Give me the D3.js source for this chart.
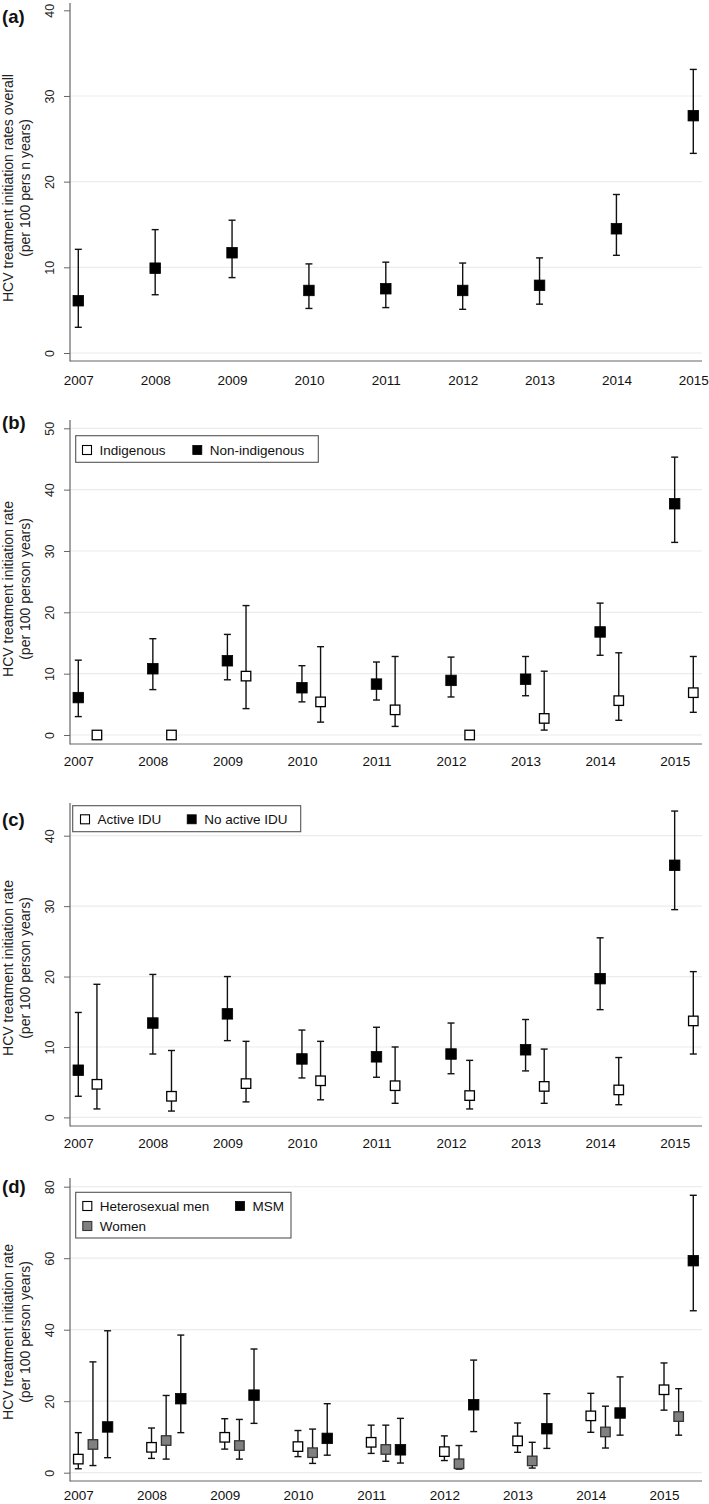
<!DOCTYPE html>
<html>
<head>
<meta charset="utf-8">
<script src="https://cdn.jsdelivr.net/npm/d3@7"></script>
<style>
  html, body { margin: 0; padding: 0; background: #fff; }
  svg { display: block; font-family: "Liberation Sans", Arial, Helvetica, sans-serif; }
</style>
</head>
<body>
<svg id="chart" width="709" height="1504"></svg>
<script>
// ---------------- DATA ----------------
const years = [2007, 2008, 2009, 2010, 2011, 2012, 2013, 2014, 2015];
const yearLabels = ["2007", "2008", "2009", "2010", "2011", "2012", "2013", "2014", "2015"];

// (a) overall
const overallRate = [6.1, 9.9, 11.7, 7.3, 7.5, 7.3, 7.9, 14.5, 27.7];
const overallLow  = [3.0, 6.8, 8.8, 5.2, 5.3, 5.1, 5.7, 11.4, 23.3];
const overallHigh = [12.1, 14.4, 15.5, 10.4, 10.6, 10.5, 11.1, 18.5, 33.1];
const ticksA = [0, 10, 20, 30, 40];

// (b) Indigenous / Non-indigenous
const nonIndigRate = [6.1, 10.8, 12.1, 7.7, 8.3, 8.9, 9.1, 16.8, 37.7];
const nonIndigLow  = [3.0, 7.4, 9.0, 5.4, 5.7, 6.2, 6.4, 13.0, 31.4];
const nonIndigHigh = [12.2, 15.7, 16.4, 11.3, 11.9, 12.7, 12.8, 21.5, 45.3];
const indigRate = [0, 0, 9.6, 5.4, 4.1, 0, 2.7, 5.6, 6.9];
const indigLow  = [null, null, 4.3, 2.1, 1.4, null, 0.8, 2.4, 3.7];
const indigHigh = [null, null, 21.1, 14.4, 12.8, null, 10.4, 13.4, 12.8];
const ticksB = [0, 10, 20, 30, 40, 50];

// (c) Active IDU / No active IDU
const noIduRate = [6.7, 13.4, 14.7, 8.3, 8.6, 9.0, 9.6, 19.7, 35.8];
const noIduLow  = [3.0, 9.0, 10.9, 5.6, 5.7, 6.2, 6.6, 15.3, 29.5];
const noIduHigh = [14.9, 20.3, 20.0, 12.4, 12.8, 13.4, 13.9, 25.5, 43.5];
const iduRate = [4.7, 3.0, 4.8, 5.2, 4.5, 3.1, 4.4, 3.9, 13.7];
const iduLow  = [1.2, 0.9, 2.2, 2.5, 2.0, 1.2, 2.0, 1.8, 9.0];
const iduHigh = [18.9, 9.5, 10.8, 10.8, 10.0, 8.1, 9.7, 8.5, 20.7];
const ticksC = [0, 10, 20, 30, 40];

// (d) Heterosexual men / Women / MSM
const heteroRate = [3.8, 7.1, 9.9, 7.3, 8.5, 5.9, 8.9, 15.9, 23.2];
const heteroLow  = [1.1, 4.0, 6.6, 4.5, 5.4, 3.4, 5.7, 11.3, 17.5];
const heteroHigh = [11.2, 12.5, 15.1, 11.8, 13.3, 10.3, 13.9, 22.2, 30.7];
const womenRate = [7.9, 9.0, 7.6, 5.6, 6.5, 2.5, 3.3, 11.4, 15.7];
const womenLow  = [2.0, 3.8, 3.8, 2.6, 3.2, 1.0, 1.3, 6.9, 10.5];
const womenHigh = [31.0, 21.6, 14.9, 12.2, 13.3, 7.6, 8.5, 18.6, 23.5];
const msmRate = [12.8, 20.7, 21.7, 9.6, 6.4, 19.0, 12.3, 16.7, 59.3];
const msmLow  = [4.2, 11.2, 13.8, 4.9, 2.7, 11.5, 6.8, 10.5, 45.3];
const msmHigh = [39.7, 38.5, 34.6, 19.3, 15.2, 31.5, 22.1, 26.8, 77.6];
const ticksD = [0, 20, 40, 60, 80];

// ---------------- LAYOUT / STYLE ----------------
const FILL = { black: "#000", white: "#fff", gray: "#808080" };
const svg = d3.select("#chart");
const X0 = 78.3, X1 = 693.3, AXIS_X = 70, GRID_END = 702;

const panels = [
  { tag: "(a)", tagY: 17, top: 3, zeroY: 353, topTickY: 10.3, ticks: ticksA, bottom: 361, yearY: 380,
    ylab: ["HCV treatment initiation rates  overall", "(per 100 pers  n years)"], ylabY: 188,
    gridSkipTop: true, maxOff: 0,
    series: [{ rate: overallRate, lo: overallLow, hi: overallHigh, fill: "black", off: 0 }], legend: null },
  { tag: "(b)", tagY: 423, top: 420, zeroY: 735, topTickY: 428.3, ticks: ticksB, bottom: 744, yearY: 761.7,
    ylab: ["HCV  treatment initiation rate", "(per 100 person years)"], ylabY: 589,
    maxOff: 0.25,
    series: [{ rate: nonIndigRate, lo: nonIndigLow, hi: nonIndigHigh, fill: "black", off: 0 },
             { rate: indigRate, lo: indigLow, hi: indigHigh, fill: "white", off: 0.25 }],
    legend: { box: [75.7, 435.7, 318.3, 462.3],
              items: [{ x: 87, y: 450, fill: "white", text: "Indigenous" },
                      { x: 197.3, y: 450, fill: "black", text: "Non-indigenous" }] } },
  { tag: "(c)", tagY: 820, top: 803, zeroY: 1117.4, topTickY: 835.7, ticks: ticksC, bottom: 1126, yearY: 1143.3,
    ylab: ["HCV treatment initiation rate", "(per 100 person years)"], ylabY: 968,
    maxOff: 0.25,
    series: [{ rate: noIduRate, lo: noIduLow, hi: noIduHigh, fill: "black", off: 0 },
             { rate: iduRate, lo: iduLow, hi: iduHigh, fill: "white", off: 0.25 }],
    legend: { box: [72.7, 805.7, 300.7, 831.7],
              items: [{ x: 85, y: 819.3, fill: "white", text: "Active IDU" },
                      { x: 191.7, y: 819.3, fill: "black", text: "No active IDU" }] } },
  { tag: "(d)", tagY: 1186.7, top: 1178, zeroY: 1472.7, topTickY: 1186.7, ticks: ticksD, bottom: 1481, yearY: 1495.5,
    ylab: ["HCV  treatment initiation rate", "(per 100 person years)"], ylabY: 1332,
    maxOff: 0.4,
    series: [{ rate: heteroRate, lo: heteroLow, hi: heteroHigh, fill: "white", off: 0 },
             { rate: womenRate, lo: womenLow, hi: womenHigh, fill: "gray", off: 0.2 },
             { rate: msmRate, lo: msmLow, hi: msmHigh, fill: "black", off: 0.4 }],
    legend: { box: [75.7, 1192.3, 291, 1238],
              items: [{ x: 87.3, y: 1206, fill: "white", text: "Heterosexual men" },
                      { x: 240, y: 1206, fill: "black", text: "MSM" },
                      { x: 87.3, y: 1226, fill: "gray", text: "Women" }] } }
];

panels.forEach(p => {
  const g = svg.append("g");
  const x = d3.scaleLinear().domain([years[0], years[years.length - 1] + p.maxOff]).range([X0, X1]);
  const yMax = p.ticks[p.ticks.length - 1];
  const y = d3.scaleLinear().domain([0, yMax]).range([p.zeroY, p.topTickY]);

  // gridlines
  g.append("g").selectAll("line")
    .data(p.ticks.filter(t => !(p.gridSkipTop && t === yMax)))
    .join("line")
    .attr("x1", AXIS_X).attr("x2", GRID_END)
    .attr("y1", d => y(d)).attr("y2", d => y(d))
    .attr("stroke", "#ececec").attr("stroke-width", 1.2);

  // y axis (D3 axis for ticks)
  const yAxis = d3.axisLeft(y).tickValues(p.ticks).tickSize(6).tickPadding(0).tickFormat(d3.format("d"));
  const ya = g.append("g").attr("transform", `translate(${AXIS_X},0)`).call(yAxis);
  ya.select(".domain").remove();
  ya.selectAll(".tick line").attr("stroke", "#666").attr("stroke-width", 1);
  ya.selectAll(".tick text").remove();
  ya.selectAll(".tick").append("text")
    .attr("transform", "translate(-20,0) rotate(-90)")
    .attr("text-anchor", "middle").attr("dy", "0.35em")
    .attr("fill", "#222").style("font-size", "12.5px")
    .text(d => d3.format("d")(d));
  g.append("line").attr("x1", AXIS_X).attr("x2", AXIS_X).attr("y1", p.top).attr("y2", p.bottom + 0.5)
    .attr("stroke", "#666").attr("stroke-width", 1.2);

  // x axis
  g.append("line").attr("x1", AXIS_X).attr("x2", GRID_END).attr("y1", p.bottom).attr("y2", p.bottom)
    .attr("stroke", "#666").attr("stroke-width", 1.2);
  const xAxis = d3.axisBottom(x).tickValues(years).tickSize(0).tickFormat((d, i) => yearLabels[i]);
  const xa = g.append("g").attr("transform", `translate(0,${p.yearY})`).call(xAxis);
  xa.select(".domain").remove();
  xa.selectAll(".tick text").attr("y", 0).attr("dy", "0.35em")
    .attr("fill", "#111").style("font-size", "13.5px");

  // panel tag
  g.append("text").attr("x", 2).attr("y", p.tagY).attr("dy", "0.35em")
    .style("font-size", "18.5px").style("font-weight", "bold").attr("fill", "#111").text(p.tag);

  // y-axis title
  const lab = g.append("text").attr("transform", `translate(8,${p.ylabY}) rotate(-90)`)
    .attr("text-anchor", "middle").attr("fill", "#222").style("font-size", "14px");
  lab.append("tspan").attr("x", 0).attr("dy", "0.35em").text(p.ylab[0]);
  lab.append("tspan").attr("x", 0).attr("dy", "17px").text(p.ylab[1]);

  // error bars + markers
  p.series.forEach(s => {
    const sg = g.append("g");
    const pts = years.map((yr, i) => ({ x: x(yr + s.off), v: s.rate[i], lo: s.lo[i], hi: s.hi[i] }));
    const wb = pts.filter(d => d.lo !== null && d.hi !== null);
    sg.selectAll("line.w").data(wb).join("line").attr("class", "w")
      .attr("x1", d => d.x).attr("x2", d => d.x).attr("y1", d => y(d.lo)).attr("y2", d => y(d.hi))
      .attr("stroke", "#111").attr("stroke-width", 1.4);
    sg.selectAll("line.ch").data(wb).join("line").attr("class", "ch")
      .attr("x1", d => d.x - 3.5).attr("x2", d => d.x + 3.5).attr("y1", d => y(d.hi)).attr("y2", d => y(d.hi))
      .attr("stroke", "#111").attr("stroke-width", 1.4);
    sg.selectAll("line.cl").data(wb).join("line").attr("class", "cl")
      .attr("x1", d => d.x - 3.5).attr("x2", d => d.x + 3.5).attr("y1", d => y(d.lo)).attr("y2", d => y(d.lo))
      .attr("stroke", "#111").attr("stroke-width", 1.4);
    const sz = s.fill === "black" ? 10.5 : 9.5;
    sg.selectAll("rect").data(pts).join("rect")
      .attr("x", d => d.x - sz / 2).attr("y", d => y(d.v) - sz / 2)
      .attr("width", sz).attr("height", sz)
      .attr("fill", FILL[s.fill]).attr("stroke", s.fill === "gray" ? "#333" : "#000")
      .attr("stroke-width", s.fill === "black" ? 0.8 : 1.3);
  });

  // legend
  if (p.legend) {
    const L = p.legend;
    g.append("rect").attr("x", L.box[0]).attr("y", L.box[1])
      .attr("width", L.box[2] - L.box[0]).attr("height", L.box[3] - L.box[1])
      .attr("fill", "#fff").attr("stroke", "#555").attr("stroke-width", 1.1);
    L.items.forEach(it => {
      g.append("rect").attr("x", it.x - 4.5).attr("y", it.y - 4.5).attr("width", 9).attr("height", 9)
        .attr("fill", FILL[it.fill]).attr("stroke", it.fill === "gray" ? "#333" : "#000")
        .attr("stroke-width", it.fill === "black" ? 0.8 : 1.1);
      g.append("text").attr("x", it.x + 12.5).attr("y", it.y).attr("dy", "0.35em")
        .attr("fill", "#111").style("font-size", "13.5px").text(it.text);
    });
  }
});
</script>
</body>
</html>
